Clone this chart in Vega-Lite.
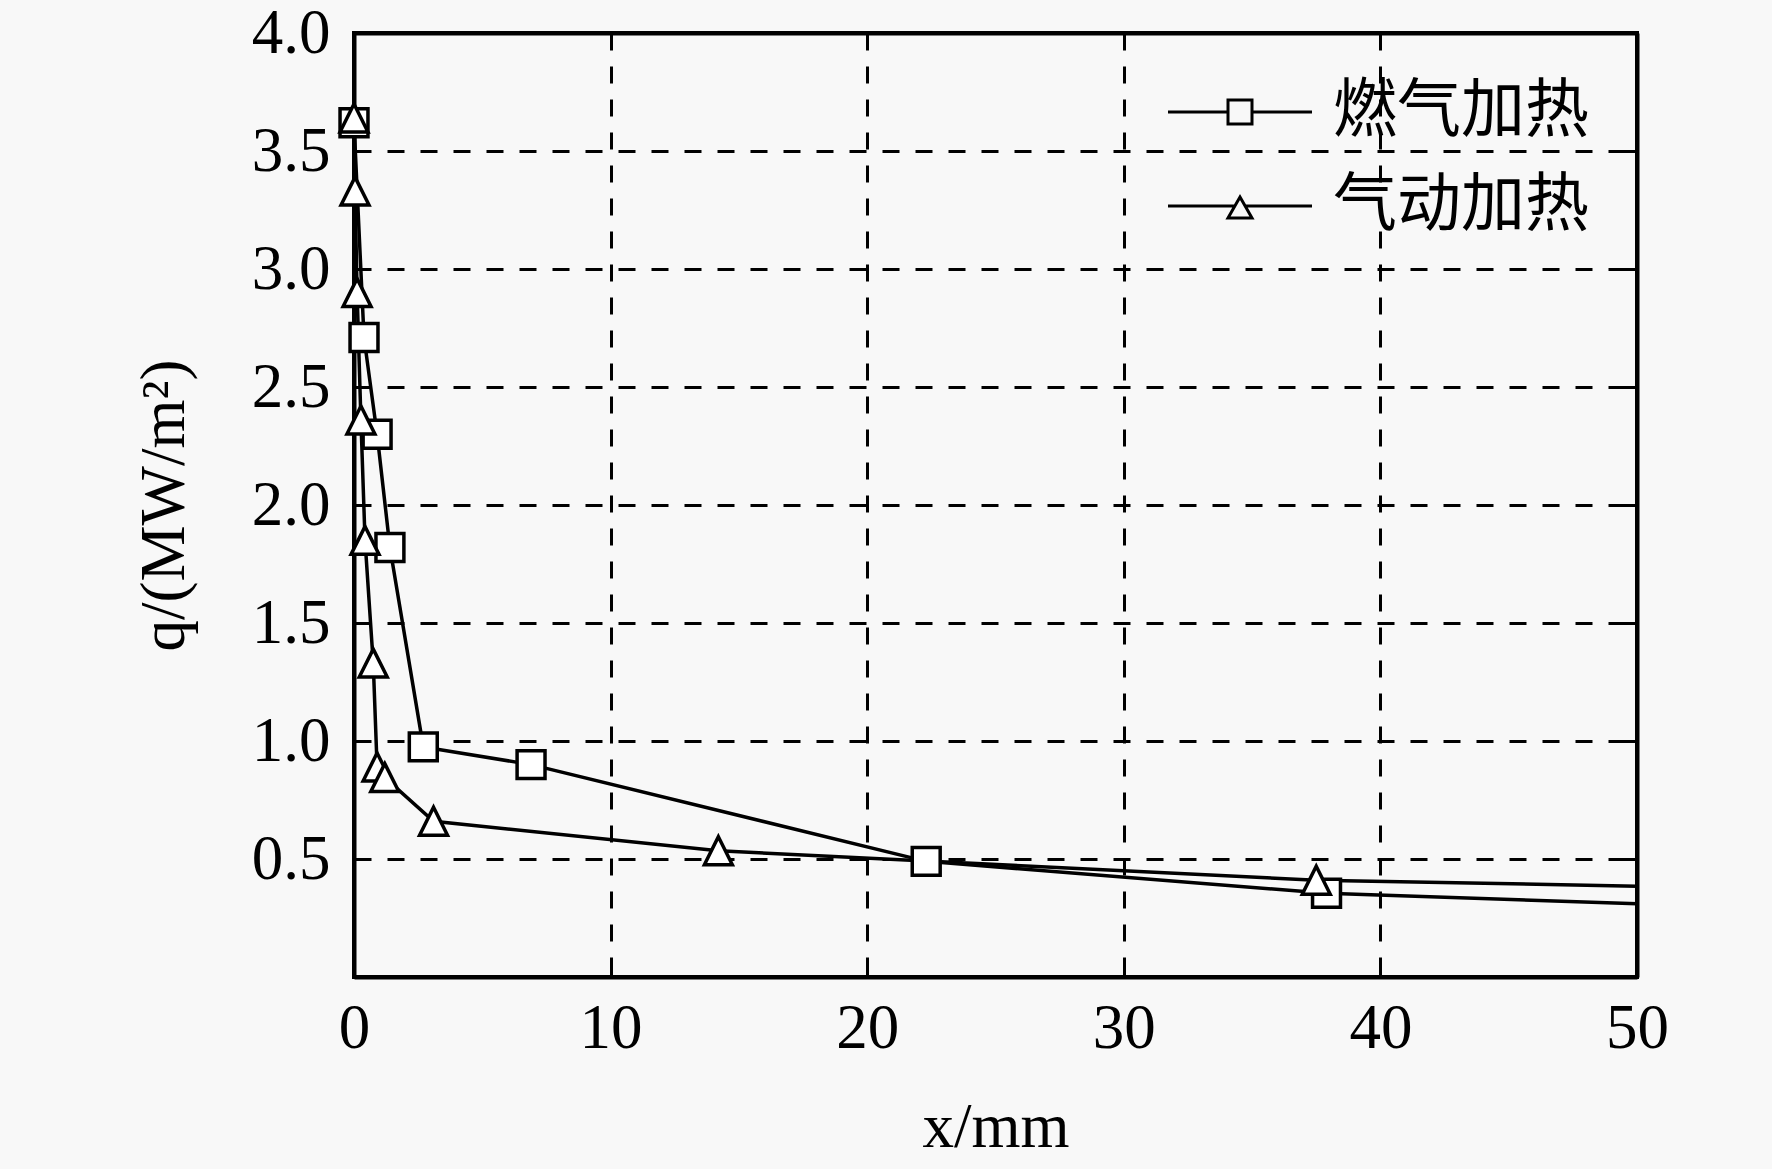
{
  "$schema": "https://vega.github.io/schema/vega-lite/v6.json",
  "width": 1283,
  "height": 944,
  "autosize": {"type": "none"},
  "padding": {"left": 354, "top": 33, "right": 135, "bottom": 192},
  "background": "#f8f8f8",
  "data": {
    "values": [
      {"series": "燃气加热", "x": 0, "q": 3.62},
      {"series": "燃气加热", "x": 0.39, "q": 2.71},
      {"series": "燃气加热", "x": 0.9, "q": 2.3},
      {"series": "燃气加热", "x": 1.4, "q": 1.82},
      {"series": "燃气加热", "x": 2.7, "q": 0.975},
      {"series": "燃气加热", "x": 6.9, "q": 0.9},
      {"series": "燃气加热", "x": 22.3, "q": 0.49},
      {"series": "燃气加热", "x": 37.9, "q": 0.355},
      {"series": "燃气加热", "x": 50, "q": 0.31},
      {"series": "气动加热", "x": 0, "q": 3.64},
      {"series": "气动加热", "x": 0.04, "q": 3.33},
      {"series": "气动加热", "x": 0.12, "q": 2.9},
      {"series": "气动加热", "x": 0.27, "q": 2.36},
      {"series": "气动加热", "x": 0.43, "q": 1.85},
      {"series": "气动加热", "x": 0.75, "q": 1.33},
      {"series": "气动加热", "x": 0.9, "q": 0.89},
      {"series": "气动加热", "x": 1.2, "q": 0.845},
      {"series": "气动加热", "x": 3.1, "q": 0.66},
      {"series": "气动加热", "x": 14.2, "q": 0.535},
      {"series": "气动加热", "x": 37.5, "q": 0.41},
      {"series": "气动加热", "x": 50, "q": 0.385}
    ]
  },
  "layer": [
    {
      "mark": {"type": "line", "stroke": "black", "strokeWidth": 3.5, "clip": false},
      "encoding": {
        "x": {
          "field": "x",
          "type": "quantitative",
          "scale": {"domain": [0, 50], "nice": false, "zero": false},
          "axis": {
            "orient": "bottom",
            "values": [0, 10, 20, 30, 40, 50],
            "tickSize": -15,
            "labelPadding": 35,
            "labelFlush": false,
            "labelOverlap": false,
            "grid": true,
            "title": "x/mm",
            "titleY": 150,
            "titleBaseline": "middle"
          }
        },
        "y": {
          "field": "q",
          "type": "quantitative",
          "scale": {"domain": [0, 4], "nice": false},
          "axis": {
            "orient": "left",
            "values": [0.5, 1, 1.5, 2, 2.5, 3, 3.5, 4],
            "format": ".1f",
            "tickSize": -15,
            "labelPadding": 39,
            "labelFlush": false,
            "labelOverlap": false,
            "grid": true,
            "title": "q/(MW/m²)",
            "titleX": -190,
            "titleY": 472,
            "titleAngle": -90,
            "titleAlign": "center",
            "titleBaseline": "middle"
          }
        },
        "detail": {"field": "series"}
      }
    },
    {
      "transform": [{"filter": "datum.x < 50"}],
      "mark": {
        "type": "point",
        "filled": true,
        "fill": "white",
        "stroke": "black",
        "strokeWidth": 3.5,
        "size": 780,
        "opacity": 1,
        "clip": false
      },
      "encoding": {
        "x": {"field": "x", "type": "quantitative", "scale": {"domain": [0, 50], "nice": false, "zero": false}, "axis": null},
        "y": {"field": "q", "type": "quantitative", "scale": {"domain": [0, 4], "nice": false}, "axis": null},
        "shape": {
          "field": "series",
          "type": "nominal",
          "scale": {"domain": ["燃气加热", "气动加热"], "range": ["square", "M0,-1L1,1H-1Z"]},
          "legend": null
        }
      }
    },
    {
      "transform": [{"filter": "false"}],
      "mark": {"type": "point", "filled": false, "stroke": "black", "strokeWidth": 3, "opacity": 1},
      "encoding": {
        "x": {"field": "x", "type": "quantitative", "scale": {"domain": [0, 50], "nice": false, "zero": false}, "axis": null},
        "y": {"field": "q", "type": "quantitative", "scale": {"domain": [0, 4], "nice": false}, "axis": null},
        "shape": {
          "field": "series",
          "type": "nominal",
          "scale": {
            "domain": ["燃气加热", "气动加热"],
            "range": ["M-6,0H-1M1,0H6M-1,-1H1V1H-1Z", "M-6,0H-0.43M0.43,0H6M0,-0.75L1,1H-1Z"]
          },
          "legend": {
            "title": null,
            "orient": "none",
            "legendX": 854,
            "legendY": 47,
            "symbolSize": 576,
            "symbolStrokeColor": "black",
            "symbolStrokeWidth": 3,
            "symbolFillColor": "white",
            "symbolOpacity": 1,
            "labelOffset": 61,
            "labelLimit": 0,
            "rowPadding": 30,
            "labelFont": "Noto Sans CJK SC",
            "labelFontSize": 64,
            "labelColor": "black",
            "labelBaseline": "middle"
          }
        }
      }
    },
    {
      "mark": {"type": "point", "opacity": 0},
      "encoding": {
        "x": {
          "field": "x",
          "type": "quantitative",
          "scale": {"domain": [0, 50], "nice": false, "zero": false},
          "axis": {"orient": "top", "values": [0, 10, 20, 30, 40, 50], "tickSize": -15, "labels": false, "grid": false, "title": null}
        },
        "y": {
          "field": "q",
          "type": "quantitative",
          "scale": {"domain": [0, 4], "nice": false},
          "axis": {"orient": "right", "values": [0.5, 1, 1.5, 2, 2.5, 3, 3.5, 4], "tickSize": -15, "labels": false, "grid": false, "title": null}
        }
      }
    }
  ],
  "resolve": {"scale": {"x": "independent", "y": "independent", "shape": "independent"}},
  "config": {
    "view": {"stroke": "black", "strokeWidth": 4},
    "axis": {
      "domainColor": "black",
      "domainWidth": 4,
      "tickColor": "black",
      "tickWidth": 3,
      "labelFont": "Liberation Serif",
      "labelFontSize": 63,
      "labelColor": "black",
      "titleFont": "Liberation Serif",
      "titleFontSize": 63,
      "titleFontWeight": "normal",
      "titleColor": "black",
      "gridColor": "black",
      "gridWidth": 3,
      "gridDash": [17, 16],
      "gridOpacity": 1
    }
  }
}
